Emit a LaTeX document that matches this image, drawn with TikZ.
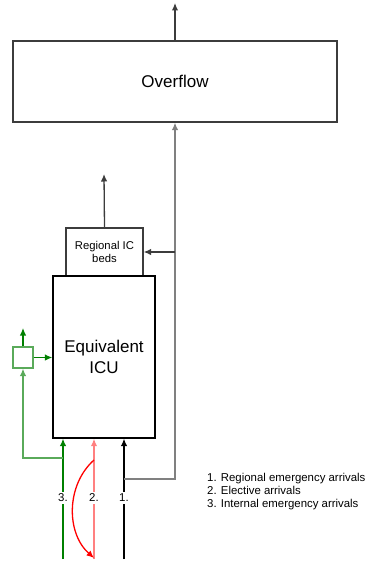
\documentclass[tikz,border=0pt]{standalone}
\usepackage{fontspec}
\setmainfont{Liberation Sans}
\usetikzlibrary{arrows.meta}
\definecolor{linegray}{RGB}{60,60,60}
\definecolor{darkgreen}{RGB}{0,128,0}
\definecolor{lightgreen}{RGB}{90,170,90}
\definecolor{lightred}{RGB}{255,128,128}

\begin{document}
\begin{tikzpicture}[x=1pt, y=-1pt, >={Latex[length=7.5pt,width=6.5pt]},
  box/.style={draw=linegray, line width=1.3pt, inner sep=0pt, align=center},
  flow/.style={->, line width=1.3pt},
  tag/.style={fill=white, inner sep=2pt, font=\fontsize{11.4}{13}\selectfont}]
\useasboundingbox (0,0) rectangle (368,567);
\node (overflow) [box, minimum width=324pt, minimum height=81pt, font=\fontsize{17}{21}\selectfont] at (175,81.5) {Overflow};
\node (regional) [box, minimum width=77pt, minimum height=48pt, font=\fontsize{11.3}{13}\selectfont] at (104.5,252) {Regional IC\\beds};
\node (icu) [box, draw=black, minimum width=102pt, minimum height=162pt, font=\fontsize{17}{21}\selectfont] at (104,357) {Equivalent\\ICU};
\node (split) [box, draw=lightgreen, minimum width=20pt, minimum height=21pt] at (23,357.5) {};
\coordinate (out) at (175,3);
\coordinate (regout) at (104,174);
\coordinate (splitout) at (23,328);
\coordinate (in3) at (63,559);
\coordinate (in2) at (94,559);
\coordinate (in1) at (124,559);
\coordinate (fork3) at (63,458);
\coordinate (fork2) at (94,460);
\coordinate (fork1) at (124,479);
\coordinate (back2) at (94,558);
\coordinate (join) at (175,252);
% outgoing
\draw[flow, linegray] (overflow.north) -- (out);
\draw[flow, linegray] (regional.north) -- (regout);
\draw[flow, darkgreen] (split.north) -- (splitout);
\draw[flow, darkgreen] (split.east) -- (icu.west |- split.east);
% arrivals
\draw[flow, darkgreen] (in3) -- (in3 |- icu.south);
\draw[flow, lightgreen] (fork3) -| (split.south);
\draw[flow, lightred, line width=2pt] (in2) -- (in2 |- icu.south);
\draw[flow, red] (fork2) .. controls (66,485) and (66,533) .. (back2);
\draw[flow, black] (in1) -- (in1 |- icu.south);
\draw[flow, gray] (fork1) -| (overflow.south);
\draw[flow, linegray] (join) -- (regional.east);
\node (tag3) [tag] at (63,498) {3.};
\node (tag2) [tag] at (94,498) {2.};
\node (tag1) [tag] at (124,498) {1.};
\node (legend) [anchor=north west, align=left, inner sep=0pt, font=\fontsize{11.4}{13}\selectfont] at (207,473) {1. Regional emergency arrivals\\2. Elective arrivals\\3. Internal emergency arrivals};
\end{tikzpicture}
\end{document}
